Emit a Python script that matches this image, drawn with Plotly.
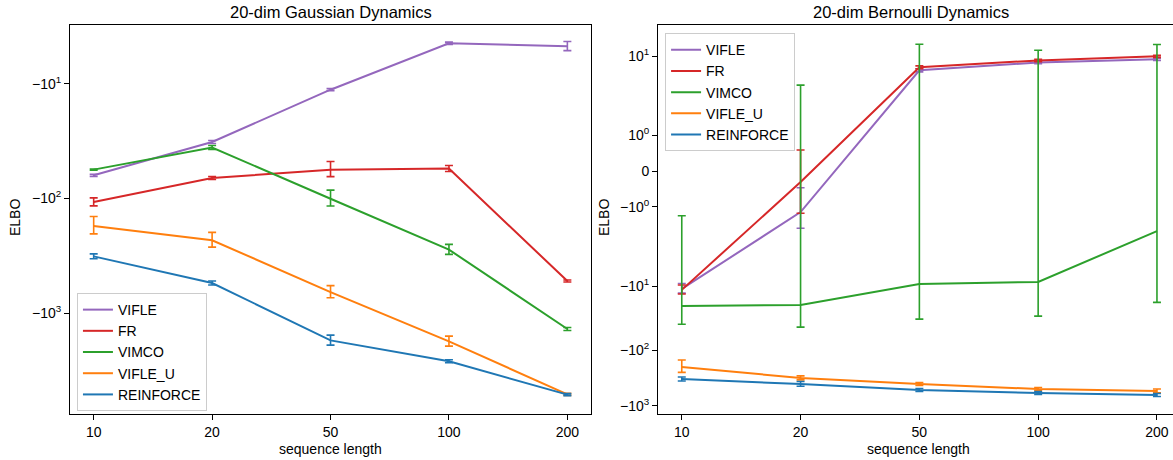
import numpy as np
import plotly.graph_objects as go

# ---------------- data ----------------
seq_len = ["10", "20", "50", "100", "200"]
series_names = ["VIFLE", "FR", "VIMCO", "VIFLE_U", "REINFORCE"]
series_colors = ["#9467bd", "#d62728", "#2ca02c", "#ff7f0e", "#1f77b4"]

# 20-dim Gaussian Dynamics (ELBO, mean and error)
gauss_vifle = [-63.0, -32.3, -11.3, -4.45, -4.73]
gauss_vifle_err = [1.3, 1.0, 0.25, 0.1, 0.43]
gauss_fr = [-107.7, -66.5, -56.2, -55.0, -526.0]
gauss_fr_err = [8.6, 2.0, 8.5, 3.3, 10.6]
gauss_vimco = [-56.2, -36.1, -100.8, -280.0, -1377.0]
gauss_vimco_err = [0.6, 1.45, 16.0, 28.0, 41.0]
gauss_vifle_u = [-174.0, -232.0, -656.0, -1766.0, -5117.0]
gauss_vifle_u_err = [30.0, 34.0, 79.0, 177.0, 103.0]
gauss_reinforce = [-320.6, -547.0, -1730.0, -2636.0, -5140.0]
gauss_reinforce_err = [16.0, 22.0, 173.0, 79.0, 103.0]

# 20-dim Bernoulli Dynamics
bern_vifle = [-11.1, -1.17, 6.6, 8.3, 9.1]
bern_vifle_err = [1.8, 0.7, 0.3, 0.3, 0.3]
bern_fr = [-11.5, -0.31, 7.2, 8.8, 9.9]
bern_fr_err = [1.8, 0.9, 0.3, 0.3, 0.3]
bern_vimco = [-20.5, -19.8, -9.44, -8.9, -2.03]
bern_vimco_err = [19.2, 24.1, 23.5, 20.7, 16.0]
bern_vifle_u = [-201.0, -316.0, -405.0, -497.0, -540.0]
bern_vifle_u_err = [50.0, 26.0, 25.0, 30.0, 44.0]
bern_reinforce = [-330.0, -405.0, -518.0, -586.0, -636.0]
bern_reinforce_err = [27.0, 40.0, 32.0, 36.0, 39.0]

left_tick_vals = [10, 100, 1000]
left_tick_text = ["\u221210<sup>1</sup>", "\u221210<sup>2</sup>", "\u221210<sup>3</sup>"]
right_tick_vals = [10, 1, 0, -1, -10, -100, -1000]
right_tick_text = ["10<sup>1</sup>", "10<sup>0</sup>", "0", "\u221210<sup>0</sup>",
                   "\u221210<sup>1</sup>", "\u221210<sup>2</sup>", "\u221210<sup>3</sup>"]

# ---------------- symmetric-log style scale for the right panel ----------------
LIN = 0.45
POS_W = [1.0, 1.0, 1.0]
NEG_W = [1.0, 0.807, 0.706]


def symlog(v):
    v = np.asarray(v, dtype=float)
    out = np.zeros_like(v)
    for i, val in np.ndenumerate(v):
        a = abs(val)
        if a <= 1:
            out[i] = LIN * val
            continue
        L = np.log10(a)
        w = NEG_W if val < 0 else POS_W
        pos = LIN
        for k in range(3):
            pos += np.clip(L - k, 0, 1) * w[k]
        if L > 3:
            pos += (L - 3) * w[-1]
        out[i] = np.sign(val) * pos
    return out


FONT = "Liberation Sans, Arial, sans-serif"

gauss = [(gauss_vifle, gauss_vifle_err), (gauss_fr, gauss_fr_err), (gauss_vimco, gauss_vimco_err),
         (gauss_vifle_u, gauss_vifle_u_err), (gauss_reinforce, gauss_reinforce_err)]
bern = [(bern_vifle, bern_vifle_err), (bern_fr, bern_fr_err), (bern_vimco, bern_vimco_err),
        (bern_vifle_u, bern_vifle_u_err), (bern_reinforce, bern_reinforce_err)]

fig = go.Figure()

for name, color, (y, e) in zip(series_names, series_colors, gauss):
    mag = [-v for v in y]
    fig.add_trace(go.Scatter(
        x=seq_len, y=mag, name=name, mode="lines",
        line=dict(color=color, width=2),
        error_y=dict(type="data", array=e, visible=True, color=color, thickness=1.6, width=4),
        xaxis="x", yaxis="y", legend="legend"))

for name, color, (y, e) in zip(series_names, series_colors, bern):
    y = np.array(y)
    e = np.array(e)
    ty = symlog(y)
    plus = symlog(y + e) - ty
    minus = ty - symlog(y - e)
    fig.add_trace(go.Scatter(
        x=seq_len, y=ty, name=name, mode="lines",
        line=dict(color=color, width=2),
        error_y=dict(type="data", symmetric=False, array=plus, arrayminus=minus,
                     visible=True, color=color, thickness=1.6, width=4),
        xaxis="x2", yaxis="y2", legend="legend2"))

axis_common = dict(showline=True, mirror=True, linecolor="black", linewidth=1,
                   ticks="outside", ticklen=5, tickcolor="black", showgrid=False,
                   zeroline=False, automargin=False,
                   tickfont=dict(family=FONT, size=14, color="black"))

L_DOM = [0.0, 0.4724]
R_DOM = [0.5331, 1.0]
PLOT_H = 460 - 25 - 46

fig.update_layout(
    template="none",
    width=1173, height=460,
    margin=dict(l=70, r=0, t=25, b=46, autoexpand=False),
    paper_bgcolor="white", plot_bgcolor="white",
    font=dict(family=FONT, size=14, color="black"),
    showlegend=True,
    xaxis=dict(domain=L_DOM, anchor="y", type="category", range=[-0.2, 4.2], **axis_common),
    yaxis=dict(domain=[0, 1], anchor="x", type="log", range=[3.88, 0.489],
               tickvals=left_tick_vals, ticktext=left_tick_text, **axis_common),
    xaxis2=dict(domain=R_DOM, anchor="y2", type="category", range=[-0.2, 4.135], **axis_common),
    yaxis2=dict(domain=[0, 1], anchor="x2", range=[-3.064, 1.841],
                tickvals=list(symlog(right_tick_vals)), ticktext=right_tick_text, **axis_common),
    legend=dict(x=0.0063, y=0.311, xanchor="left", yanchor="top",
                bgcolor="rgba(255,255,255,0.8)", bordercolor="#cccccc", borderwidth=1,
                font=dict(family=FONT, size=14), itemwidth=30, tracegroupgap=0),
    legend2=dict(x=0.5395, y=0.979, xanchor="left", yanchor="top",
                 bgcolor="rgba(255,255,255,0.8)", bordercolor="#cccccc", borderwidth=1,
                 font=dict(family=FONT, size=14), itemwidth=30, tracegroupgap=0),
    annotations=[
        dict(text="20-dim Gaussian Dynamics", x=(L_DOM[0] + L_DOM[1]) / 2, y=1,
             xref="paper", yref="paper", xanchor="center", yanchor="bottom", yshift=2,
             showarrow=False, font=dict(family=FONT, size=16.5)),
        dict(text="20-dim Bernoulli Dynamics", x=(R_DOM[0] + R_DOM[1]) / 2 - 0.004, y=1,
             xref="paper", yref="paper", xanchor="center", yanchor="bottom", yshift=2,
             showarrow=False, font=dict(family=FONT, size=16.5)),
        dict(text="sequence length", x=(L_DOM[0] + L_DOM[1]) / 2, y=0,
             xref="paper", yref="paper", xanchor="center", yanchor="middle", yshift=-35,
             showarrow=False, font=dict(family=FONT, size=14)),
        dict(text="sequence length", x=(R_DOM[0] + 0.5331 + 0.4724) / 2 + 0.0, y=0,
             xref="paper", yref="paper", xanchor="center", yanchor="middle", yshift=-35,
             showarrow=False, font=dict(family=FONT, size=14)),
        dict(text="ELBO", x=0, y=(414 - 218) / PLOT_H,
             xref="paper", yref="paper", xanchor="center", yanchor="middle", xshift=-55,
             textangle=-90, showarrow=False, font=dict(family=FONT, size=14)),
        dict(text="ELBO", x=R_DOM[0], y=(414 - 218) / PLOT_H,
             xref="paper", yref="paper", xanchor="center", yanchor="middle", xshift=-54,
             textangle=-90, showarrow=False, font=dict(family=FONT, size=14)),
    ],
)

fig.write_html("out.html", config={"displayModeBar": False},
               post_script="document.body.style.margin='0';document.body.style.overflow='hidden';")
